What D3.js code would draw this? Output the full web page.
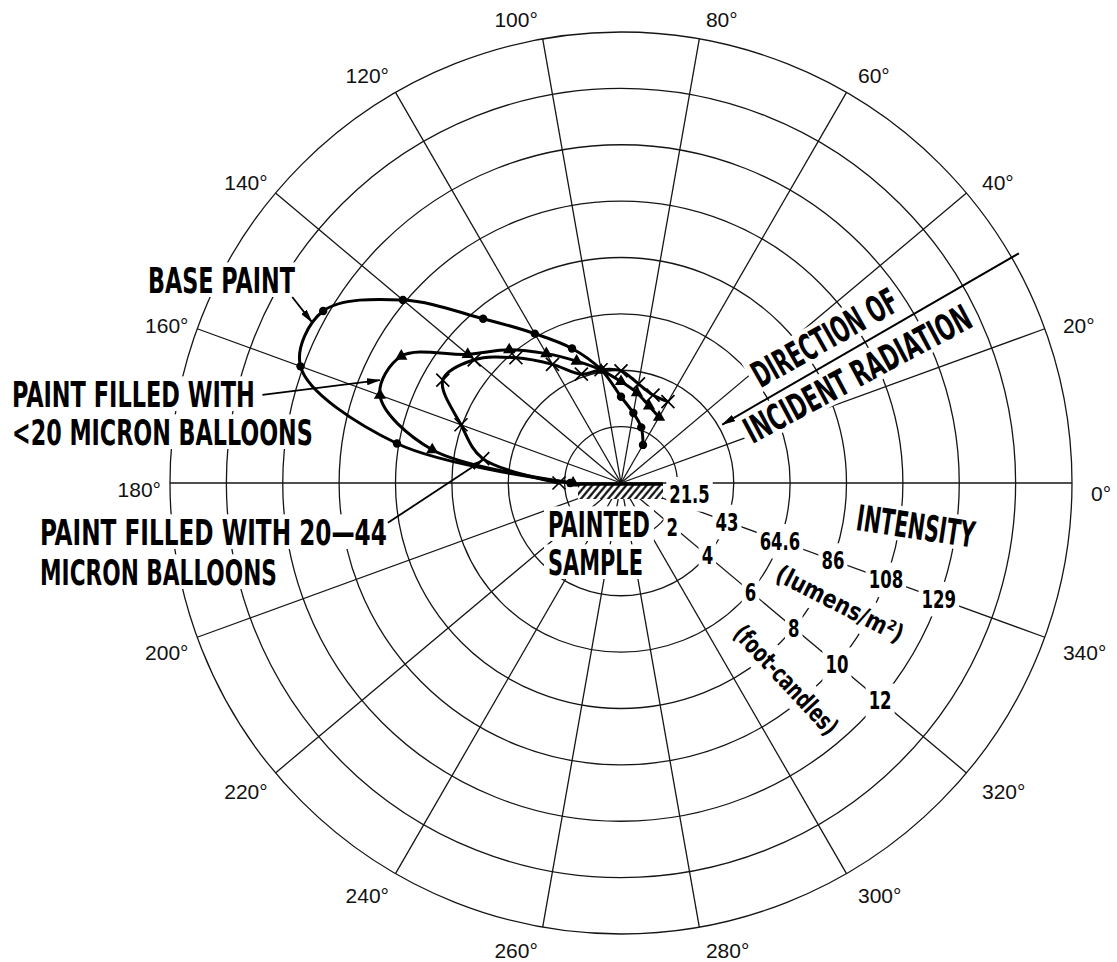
<!DOCTYPE html>
<html>
<head>
<meta charset="utf-8">
<title>Polar distribution of reflected light</title>
<script src="https://cdn.jsdelivr.net/npm/d3@7"></script>
<style>
  html, body { margin:0; padding:0; background:#fff; }
  svg { display:block; }
  .cond { font-family: "Liberation Sans Narrow", "DejaVu Sans Condensed", "Liberation Sans", Arial, sans-serif; font-weight:700; fill:#000; }
  .ang { font-family: "Liberation Sans", Arial, Helvetica, sans-serif; font-size:21px; fill:#111; }
</style>
</head>
<body>
<svg id="chart" width="1117" height="962" viewBox="0 0 1117 962"></svg>
<script>
// ---------------- DATA ----------------
const angleTicks = [0,20,40,60,80,100,120,140,160,180,200,220,240,260,280,300,320,340];
const ringFc = [2,4,6,8,10,12,14,16];                  // foot-candles per ring
const lumensLabels = ["21.5","43","64.6","86","108","129"];
const footCandleLabels = ["2","4","6","8","10","12"];

const measuredAngles  = [60,70,80,90,100,110,120,130,140,150,160,170,180];
const basePaint       = [1.56,2.10,2.52,3.06,4.09,5.08,6.12,7.61,10.1,12.2,12.1,8.07,1.8];
const balloonsUnder20 = [2.70,2.91,3.25,3.60,4.07,4.60,5.30,6.17,7.10,9.00,9.10,6.80,1.7];
const balloons20to44  = [3.33,3.32,3.57,3.98,4.08,4.11,4.86,5.80,6.80,7.30,6.04,4.98,2.2];

const incidentAngle = 30;           // direction of incident radiation (deg)
const incidentRange = [16.3, 4.15]; // from / to (fc units)

// pointer annotations: [angle, value] in data units
const pointerBase  = [[150.5, 13.4], [152.5, 12.36]];
const pointer20    = [[166.2, 13.1], [156.9, 9.30]];
const pointer2044  = [[189.7, 8.39], [170.5, 4.96]];

// ---------------- LAYOUT ----------------
const cx = 621, cy = 483, R = 451;
const r = d3.scaleLinear().domain([0, 16]).range([0, R]);
const rad = d => d * Math.PI / 180;
const toXY = (deg, v) => [cx + r(v) * Math.cos(rad(deg)), cy - r(v) * Math.sin(rad(deg))];
const toXYpx = (deg, px) => [cx + px * Math.cos(rad(deg)), cy - px * Math.sin(rad(deg))];

const svg = d3.select('#chart');
const defs = svg.append('defs');
defs.append('marker').attr('id','arrow')
  .attr('viewBox','0 0 14 7').attr('refX',13).attr('refY',3.5)
  .attr('markerWidth',14).attr('markerHeight',7)
  .attr('markerUnits','userSpaceOnUse').attr('orient','auto')
  .append('path').attr('d','M0,0 L14,3.5 L0,7 Z').attr('fill','#000');
const pat = defs.append('pattern').attr('id','hatch')
  .attr('patternUnits','userSpaceOnUse').attr('width',5.2).attr('height',20)
  .attr('patternTransform','rotate(40)');
pat.append('rect').attr('width',5.2).attr('height',20).attr('fill','#fff');
pat.append('line').attr('x1',1.3).attr('x2',1.3).attr('y1',0).attr('y2',20)
  .attr('stroke','#000').attr('stroke-width',2.1);

// ---------------- GRID ----------------
const grid = svg.append('g').attr('fill','none').attr('stroke','#151515').attr('stroke-width',1.3);
ringFc.forEach(v => grid.append('circle').attr('cx',cx).attr('cy',cy).attr('r',r(v)));
angleTicks.forEach(a => {
  const [x, y] = toXY(a, ringFc[ringFc.length-1]);
  grid.append('line').attr('x1',cx).attr('y1',cy).attr('x2',x).attr('y2',y);
});

// angle labels
const angG = svg.append('g');
angleTicks.forEach(a => {
  const c = Math.cos(rad(a)), s = Math.sin(rad(a));
  const [ex, ey] = toXY(a, 16);
  const right = c > 0;
  const yoff = s > 0 ? 6 - 26 * s : 10 - 14 * s;
  angG.append('text').attr('class','ang')
    .attr('x', ex + (right ? 4 + 15 * Math.abs(c) : -(4 + 5 * Math.abs(c))))
    .attr('y', ey + yoff + 7.5)
    .attr('text-anchor', right ? 'start' : 'end')
    .text(a + '\u00b0');
});

// ---------------- LABELS WITH KNOCKOUT BOXES ----------------
const labG = svg.append('g');
function label(str, o) {
  const size = o.size || 36;
  const g = labG.append('g').attr('transform', `translate(${o.x},${o.y}) rotate(${o.rotate || 0})`);
  const inner = g.append('g');
  const box = inner.append('rect').attr('fill', '#fff');
  const t = inner.append('text').attr('class', 'cond').attr('font-size', size)
    .attr('text-anchor', o.anchor || 'start').text(str);
  let k = 1;
  if (o.length) {
    const w0 = t.node().getComputedTextLength();
    k = o.length / w0;
    t.attr('font-size', size * k);          // natural width now equals target
    inner.attr('transform', `scale(1, ${1 / k})`); // restore the tall glyph height
  }
  if (o.dy) t.attr('dy', o.dy);
  const b = t.node().getBBox();
  const pad = o.pad == null ? 4 : o.pad;
  let y0 = b.y, h = b.height;
  if (o.caps) { y0 = -size * k * 0.74; h = size * k * 0.74; }
  box.attr('x', b.x - pad).attr('y', y0 - pad * k)
     .attr('width', b.width + 2 * pad).attr('height', h + 2 * pad * k);
  return t;
}
const numLen = s => [...s].reduce((acc, ch) => acc + (ch === '.' ? 6 : 11.5), 0);

// intensity scale labels on the 340° and 320° rays
lumensLabels.forEach((s, i) => {
  const [x, y] = i === 0 ? toXYpx(-9, r(ringFc[0]) + 13) : toXY(340, ringFc[i]);
  label(s, {x, y, size: 25, anchor: 'middle', dy: '0.36em', length: numLen(s), pad: 3});
});
footCandleLabels.forEach((s, i) => {
  const [x, y] = i === 0 ? toXYpx(-40.5, r(ringFc[0]) + 11) : toXY(320, ringFc[i]);
  label(s, {x, y, size: 25, anchor: 'middle', dy: '0.36em', length: numLen(s), pad: 3});
});
label('(lumens/m\u00b2)', {x: cx + 219, y: cy + 121, rotate: 27, size: 25, anchor: 'middle', dy: '0.34em', length: 140, pad: 3});
label('(foot-candles)', {x: cx + 165, y: cy + 197, rotate: 47, size: 25, anchor: 'middle', dy: '0.34em', length: 140, pad: 3});
label('INTENSITY', {x: cx + 234, y: cy + 47, rotate: 8.5, length: 119, caps: true});

// series names
label('BASE PAINT', {x: 148, y: 293, length: 147, caps: true});
label('PAINT FILLED WITH', {x: 12, y: 407, length: 243, caps: true});
label('<20 MICRON BALLOONS', {x: 12, y: 445, length: 301, caps: true});
label('PAINT FILLED WITH 20\u201444', {x: 40, y: 545, length: 347, caps: true});
label('MICRON BALLOONS', {x: 40, y: 585, length: 237, caps: true});
label('PAINTED', {x: cx - 73, y: cy + 54, length: 102, caps: true});
label('SAMPLE', {x: cx - 73, y: cy + 92, length: 95, caps: true});

// direction of incident radiation text (parallel to incident ray)
{
  const th = rad(incidentAngle), c = Math.cos(th), s = Math.sin(th);
  const at = (u, v) => [cx + u * c - v * s, cy - u * s - v * c];
  const [x1, y1] = at(168, 12);
  label('DIRECTION OF', {x: x1, y: y1, rotate: -29.5, length: 162, caps: true});
  const [x2, y2] = at(133, -32);
  label('INCIDENT RADIATION', {x: x2, y: y2, rotate: -28, length: 252, caps: true});
}

// ---------------- ANNOTATION LINES ----------------
const annG = svg.append('g').attr('stroke', '#000').attr('fill', 'none');
{
  const [x1, y1] = toXY(incidentAngle, incidentRange[0]);
  const [x2, y2] = toXY(incidentAngle, incidentRange[1]);
  annG.append('line').attr('x1', x1).attr('y1', y1).attr('x2', x2).attr('y2', y2)
    .attr('stroke-width', 2).attr('marker-end', 'url(#arrow)');
}
[pointerBase, pointer20, pointer2044].forEach(p => {
  const [x1, y1] = toXY(p[0][0], p[0][1]);
  const [x2, y2] = toXY(p[1][0], p[1][1]);
  annG.append('line').attr('x1', x1).attr('y1', y1).attr('x2', x2).attr('y2', y2)
    .attr('stroke-width', 1.8).attr('marker-end', 'url(#arrow)');
});

// ---------------- PAINTED SAMPLE ----------------
const smp = svg.append('g');
smp.append('rect').attr('x', cx - 43).attr('y', cy).attr('width', 85).attr('height', 16)
  .attr('fill', 'url(#hatch)');
smp.append('line').attr('x1', cx - 47).attr('x2', cx + 42).attr('y1', cy + 1).attr('y2', cy + 1)
  .attr('stroke', '#000').attr('stroke-width', 3.5);

// ---------------- CURVES ----------------
const plot = svg.append('g').attr('transform', `translate(${cx},${cy})`);
const radialLine = d3.lineRadial()
  .angle(d => rad(90 - d[0]))
  .radius(d => r(d[1]))
  .curve(d3.curveCatmullRom.alpha(0.5));

const series = [
  {values: basePaint, marker: 'dot'},
  {values: balloonsUnder20, marker: 'triangle'},
  {values: balloons20to44, marker: 'x'}
];
const tri = d3.symbol().type(d3.symbolTriangle).size(65);
series.forEach(s => {
  const pts = measuredAngles.map((a, i) => [a, s.values[i]]);
  plot.append('path').attr('d', radialLine(pts))
    .attr('fill', 'none').attr('stroke', '#000').attr('stroke-width', 3)
    .attr('stroke-linejoin', 'round').attr('stroke-linecap', 'round');
  const mg = plot.append('g');
  pts.forEach(([a, v]) => {
    const x = r(v) * Math.cos(rad(a)), y = -r(v) * Math.sin(rad(a));
    if (s.marker === 'dot') {
      mg.append('circle').attr('cx', x).attr('cy', y).attr('r', 4.2).attr('fill', '#000');
    } else if (s.marker === 'triangle') {
      mg.append('path').attr('d', tri()).attr('transform', `translate(${x},${y})`).attr('fill', '#000');
    } else {
      const k = 6.5;
      mg.append('path').attr('d', `M${-k},${-k}L${k},${k}M${-k},${k}L${k},${-k}`)
        .attr('transform', `translate(${x},${y})`)
        .attr('stroke', '#000').attr('stroke-width', 1.7).attr('fill', 'none');
    }
  });
});
</script>
</body>
</html>
